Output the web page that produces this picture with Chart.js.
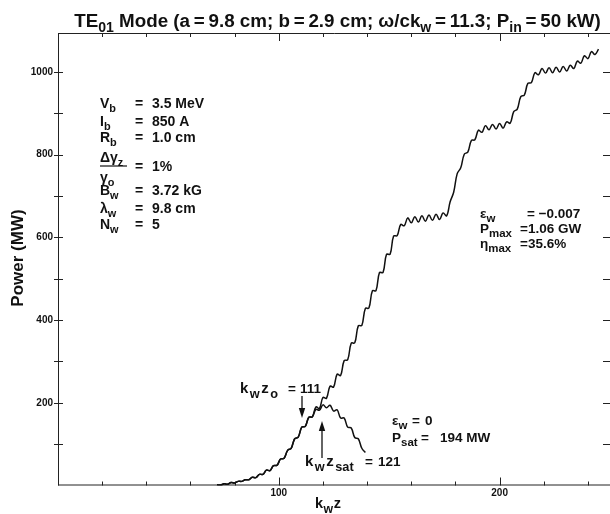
<!DOCTYPE html>
<html><head><meta charset="utf-8">
<script src="https://cdn.jsdelivr.net/npm/chart.js@4/dist/chart.umd.min.js"></script>
<style>html,body{margin:0;padding:0;background:#fff}</style>
</head><body>
<canvas id="c" width="610" height="514"></canvas>
<script>
// ---- data ----
const kzTapered = [72,73.6,75.2,76.8,78.4,80,81.6,83.2,84.8,86.4,
  88,89.6,91.2,92.8,94.4,96,97.6,99.2,100.8,102.4,
  104,105.6,107.2,108.8,110.4,112,113.6,115.2,116.8,118.4,
  120,121.6,123.2,124.8,126.4,128,129.6,131.2,132.8,134.4,
  136,137.6,139.2,140.8,142.4,144,145.6,147.2,148.8,150.4,
  152,153.6,155.2,156.8,158.4,160,161.6,163.2,164.8,166.4,
  168,169.6,171.2,172.8,174.4,176,177.6,179.2,180.8,182.4,
  184,185.6,187.2,188.8,190.4,192,193.6,195.2,196.8,198.4,
  200,201.6,203.2,204.8,206.4,208,209.6,211.2,212.8,214.4,
  216,217.6,219.2,220.8,222.4,224,225.6,227.2,228.8,230.4,
  232,233.6,235.2,236.8,238.4,240,241.6,243.2,244.8];
const powerTapered = [2,1,4,3,7,6,10,10,14,14,
  20,19,27,27,37,36,48,49,64,66,
  85,90,113,117,141,143,165,166,190,186,
  213,211,240,238,269,266,302,304,344,345,
  386,387,428,429,471,471,515,515,559,559,
  603,604,631,628,647,635,650,637,652,639,
  654,641,656,643,659,652,686,709,754,768,
  801,806,834,836,859,854,870,860,873,862,
  875,864,879,876,904,910,940,944,972,974,
  998,993,1008,997,1010,998,1011,1000,1013,1002,
  1016,1008,1026,1021,1039,1032,1049,1042,1055];
const kzUniform = [72,73.6,75.2,76.8,78.4,80,81.6,83.2,84.8,86.4,
  88,89.6,91.2,92.8,94.4,96,97.6,99.2,100.8,102.4,
  104,105.6,107.2,108.8,110.4,112,113.6,115.2,116.8,118.4,
  120,121.6,123.2,124.8,126.4,128,129.6,131.2,132.8,134.4,
  136,137.6,139.2];
const powerUniform = [2,1,4,3,7,6,10,10,14,14,
  20,19,27,27,37,36,48,49,64,66,
  85,90,113,117,141,143,165,166,184,182,
  195,188,194,180,183,163,163,141,139,116,
  113,90,80];
const xTickValues = [100, 200];
const xTickLabels = ['100', '200'];
const xMinorValues = [20,40,60,80,120,140,160,180,220,240];
const yTickValues = [200, 400, 600, 800, 1000];
const yTickLabels = ['200', '400', '600', '800', '1000'];
const yMinorValues = [100,300,500,700,900];

// ---- styling helpers ----
const FONT = '"Liberation Sans", Arial, Helvetica, sans-serif';
const INK = '#111';
function fnt(size, weight) { return `${weight || 'bold'} ${size}px ${FONT}`; }
function richWidth(ctx, parts, size, sub, gap) {
  let w = 0;
  for (const [t, k] of parts) { ctx.font = fnt(k === 's' ? size * sub : size); w += ctx.measureText(t).width + gap; }
  return w - gap;
}
function drawRich(ctx, x, yc, parts, size, align, sub, gap) {
  sub = sub || 0.75; gap = gap || 0;
  const w = richWidth(ctx, parts, size, sub, gap);
  let cx = align === 'center' ? x - w / 2 : align === 'right' ? x - w : x;
  const base = yc + size * 0.36;
  ctx.textAlign = 'left'; ctx.textBaseline = 'alphabetic'; ctx.fillStyle = INK;
  for (const [t, k] of parts) {
    const s = k === 's' ? size * sub : size;
    ctx.font = fnt(s);
    ctx.fillText(t, cx, k === 's' ? base + size * 0.3 : base);
    cx += ctx.measureText(t).width + gap;
  }
  return w;
}
function arrow(ctx, x, y0, y1) {
  const dir = Math.sign(y1 - y0);
  ctx.strokeStyle = INK; ctx.fillStyle = INK; ctx.lineWidth = 1.3;
  ctx.beginPath(); ctx.moveTo(x, y0); ctx.lineTo(x, y1 - dir * 6); ctx.stroke();
  ctx.beginPath(); ctx.moveTo(x, y1); ctx.lineTo(x - 3.2, y1 - dir * 10); ctx.lineTo(x + 3.2, y1 - dir * 10); ctx.closePath(); ctx.fill();
}

const framePlugin = {
  id: 'frame',
  beforeDatasetsDraw(chart) {
    const { ctx, chartArea: a, scales: { x, y } } = chart;
    ctx.save();
    ctx.strokeStyle = '#222'; ctx.lineWidth = 1;
    ctx.beginPath();
    ctx.moveTo(a.left + 0.5, a.top + 0.5); ctx.lineTo(a.right, a.top + 0.5);
    ctx.moveTo(a.left + 0.5, a.top); ctx.lineTo(a.left + 0.5, a.bottom);
    ctx.moveTo(a.left, a.bottom - 0.5); ctx.lineTo(a.right, a.bottom - 0.5);
    ctx.stroke();
    ctx.beginPath();
    for (const v of xTickValues.concat(xMinorValues)) {
      const px = Math.round(x.getPixelForValue(v)) + 0.5;
      const len = xTickValues.includes(v) ? 8 : 4;
      ctx.moveTo(px, a.bottom); ctx.lineTo(px, a.bottom - len);
      ctx.moveTo(px, a.top); ctx.lineTo(px, a.top + len);
    }
    for (const v of yTickValues.concat(yMinorValues)) {
      const py = Math.round(y.getPixelForValue(v)) + 0.5;
      ctx.moveTo(a.left - 4, py); ctx.lineTo(a.left + 5, py);
      ctx.moveTo(a.right - 7, py); ctx.lineTo(a.right, py);
    }
    ctx.stroke();
    ctx.restore();
  },
  afterDraw(chart) {
    const { ctx } = chart;
    ctx.save();
    // title, fitted to the reference width
    const title = [['TE','n'],['01','s'],[' Mode (a\u2009=\u20099.8 cm; b\u2009=\u20092.9 cm; \u03c9/ck','n'],['w','s'],['\u2009=\u200911.3; P','n'],['in','s'],['\u2009=\u200950 kW)','n']];
    const tw = richWidth(ctx, title, 16, 0.75, 0);
    drawRich(ctx, 337.5, 20, title, 16 * 527 / tw, 'center', 0.75, 0);
    // axis titles
    drawRich(ctx, 315, 503, [['k','n'],['w','s'],['z','n']], 14.5, 'left', 0.85, 0.5);
    ctx.save(); ctx.translate(17, 258); ctx.rotate(-Math.PI / 2);
    drawRich(ctx, 0, 0, [['Power (MW)','n']], 17, 'center');
    ctx.restore();
    // left parameter block
    const L = 14, x0 = 100, xe = 135, xv = 152;
    const rows = [
      [103, [['V','n'],['b','s']], '3.5 MeV'],
      [121, [['I','n'],['b','s']], '850 A'],
      [137, [['R','n'],['b','s']], '1.0 cm'],
      [190, [['B','n'],['w','s']], '3.72 kG'],
      [208, [['\u03bb','n'],['w','s']], '9.8 cm'],
      [224, [['N','n'],['w','s']], '5']
    ];
    for (const [yy, lab, val] of rows) {
      drawRich(ctx, x0, yy, lab, L, 'left', 0.78);
      drawRich(ctx, xe, yy, [['=','n']], L, 'left');
      drawRich(ctx, xv, yy, [[val,'n']], L, 'left');
    }
    drawRich(ctx, x0, 157, [['\u0394\u03b3','n'],['z','s']], L, 'left', 0.78);
    drawRich(ctx, x0, 177, [['\u03b3','n'],['o','s']], L, 'left', 0.78);
    ctx.strokeStyle = INK; ctx.lineWidth = 1.2;
    ctx.beginPath(); ctx.moveTo(x0, 166); ctx.lineTo(x0 + 27, 166); ctx.stroke();
    drawRich(ctx, xe, 166, [['=','n']], L, 'left');
    drawRich(ctx, xv, 166, [['1%','n']], L, 'left');
    // right block
    const R = 13.5;
    drawRich(ctx, 480, 213, [['\u03b5','n'],['w','s']], R, 'left', 0.85);
    drawRich(ctx, 527, 213, [['= \u22120.007','n']], R, 'left');
    drawRich(ctx, 480, 228, [['P','n'],['max','s']], R, 'left', 0.85);
    drawRich(ctx, 520, 228, [['=1.06 GW','n']], R, 'left');
    drawRich(ctx, 480, 243, [['\u03b7','n'],['max','s']], R, 'left', 0.85);
    drawRich(ctx, 520, 243, [['=35.6%','n']], R, 'left');
    // bottom annotations
    const B = 13.5;
    drawRich(ctx, 240, 388, [['k','n'],['w','s'],['z','n'],['o','s']], 15, 'left', 0.85, 1.5);
    drawRich(ctx, 288, 388, [['=','n']], B, 'left');
    drawRich(ctx, 300, 388, [['111','n']], B, 'left');
    arrow(ctx, 302, 396, 418);
    drawRich(ctx, 305, 461, [['k','n'],['w','s'],['z','n'],['sat','s']], 15, 'left', 0.85, 1.5);
    drawRich(ctx, 365, 461, [['=','n']], B, 'left');
    drawRich(ctx, 378, 461, [['121','n']], B, 'left');
    arrow(ctx, 322, 458, 421);
    drawRich(ctx, 392, 420, [['\u03b5','n'],['w','s']], B, 'left', 0.85);
    drawRich(ctx, 412, 420, [['=','n']], B, 'left');
    drawRich(ctx, 425, 420, [['0','n']], B, 'left');
    drawRich(ctx, 392, 437, [['P','n'],['sat','s']], B, 'left', 0.85);
    drawRich(ctx, 421, 437, [['=','n']], B, 'left');
    drawRich(ctx, 440, 437, [['194 MW','n']], B, 'left');
    ctx.restore();
  }
};

new Chart(document.getElementById('c'), {
  type: 'line',
  data: {
    datasets: [
      { label: 'εw = −0.007', data: kzTapered.map((k, i) => ({ x: k, y: powerTapered[i] })),
        borderColor: INK, borderWidth: 1.5, pointRadius: 0, tension: 0.4, fill: false },
      { label: 'εw = 0', data: kzUniform.map((k, i) => ({ x: k, y: powerUniform[i] })),
        borderColor: INK, borderWidth: 1.5, pointRadius: 0, tension: 0.4, fill: false }
    ]
  },
  options: {
    responsive: false, animation: false, devicePixelRatio: 1,
    layout: { padding: { top: 33, left: 0, right: 0, bottom: 0 } },
    plugins: { legend: { display: false }, tooltip: { enabled: false }, title: { display: false } },
    scales: {
      x: {
        type: 'linear', min: 0, max: 250,
        grid: { display: false, drawTicks: false }, border: { display: false },
        afterBuildTicks: s => { s.ticks = xTickValues.map(v => ({ value: v })); },
        afterFit: s => { s.height = 28.5; },
        ticks: { autoSkip: false, maxRotation: 0, padding: 2, color: INK, font: { family: FONT, size: 10, weight: 'bold' },
          callback: v => xTickLabels[xTickValues.indexOf(v)] ?? '' }
      },
      y: {
        type: 'linear', min: 0, max: 1094,
        grid: { display: false, drawTicks: false }, border: { display: false },
        afterBuildTicks: s => { s.ticks = yTickValues.map(v => ({ value: v })); },
        afterFit: s => { s.width = 58; },
        ticks: { autoSkip: false, padding: 5, color: INK, font: { family: FONT, size: 10, weight: 'bold' },
          callback: v => yTickLabels[yTickValues.indexOf(v)] ?? '' }
      }
    }
  },
  plugins: [framePlugin]
});
</script>
</body></html>
